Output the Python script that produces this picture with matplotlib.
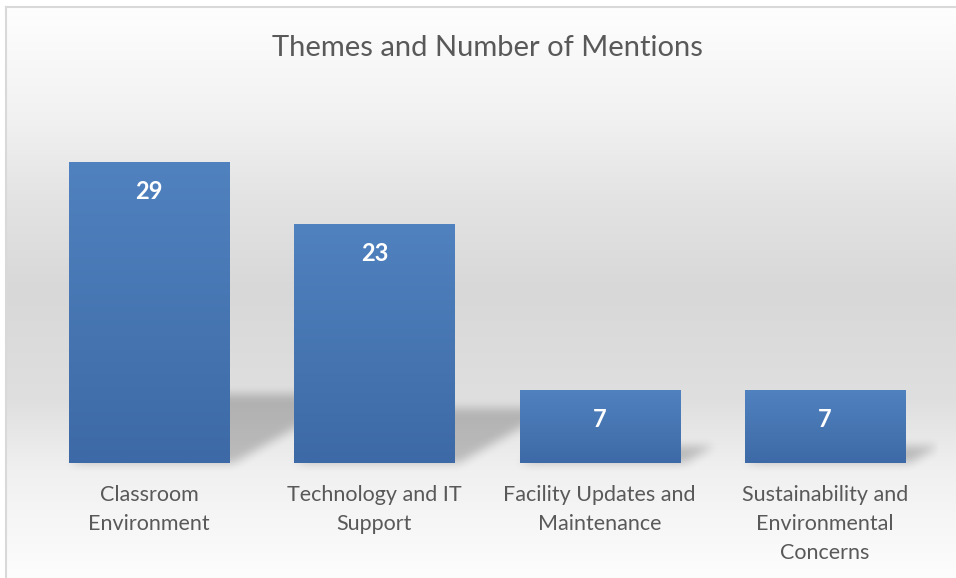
import numpy as np
import matplotlib
matplotlib.use('Agg')
import matplotlib.pyplot as plt
from matplotlib.lines import Line2D

# data
themes = ['Classroom\nEnvironment', 'Technology and IT\nSupport',
          'Facility Updates and\nMaintenance',
          'Sustainability and\nEnvironmental\nConcerns']
mentions = [29, 23, 7, 7]
title = 'Themes and Number of Mentions'

plt.rcParams['font.family'] = ['Lato', 'DejaVu Sans']

W, H = 956, 578
fig = plt.figure(figsize=(W / 100, H / 100), dpi=100)
fig.patch.set_facecolor('white')

# grey-white-grey background of the chart area
bg = fig.add_axes([6 / W, 0, 1 - 6 / W, 1 - 7 / H])
stop_pos = np.array([0, 113, 193, 283, 393, 463, 571]) / 571
stop_val = np.array([254, 241, 227, 216, 223, 240, 253]) / 255
shade = np.interp(np.linspace(0, 1, 600), stop_pos, stop_val)
bg.imshow(np.repeat(shade[:, None, None], 3, axis=2), aspect='auto',
          extent=[0, 1, 0, 1], interpolation='bilinear')
bg.set_xlim(0, 1)
bg.set_ylim(0, 1)
bg.axis('off')

# frame of the chart area
fig.add_artist(Line2D([6 / W, 1], [1 - 7 / H, 1 - 7 / H], color='#d9d9d9', lw=1.5))
fig.add_artist(Line2D([6 / W, 6 / W], [0, 1 - 7 / H], color='#d9d9d9', lw=1.5))

ax = fig.add_axes([36.25 / W, 115 / H, 901.5 / W, 363 / H])
ax.patch.set_alpha(0)
x = np.arange(len(mentions))
width = 0.71


def blur(a, r):
    k = np.ones(2 * r + 1) / (2 * r + 1)
    for _ in range(3):
        a = np.apply_along_axis(lambda m: np.convolve(m, k, mode='same'), 0, a)
        a = np.apply_along_axis(lambda m: np.convolve(m, k, mode='same'), 1, a)
    return a


# soft perspective shadows behind the bars
ext = [-0.5, 3.5, -1.5, 35]
gx = np.linspace(ext[0], ext[1], 902)
gy = np.linspace(ext[2], ext[3], 380)
X, Y = np.meshgrid(gx, gy)
mask = np.zeros_like(X)
for xi, v in zip(x, mentions):
    hs = 0.23 * v
    left = xi - width / 2 + 0.0806 * Y
    right = xi + width / 2 + 0.02 + 0.0806 * Y
    mask[(Y >= 0) & (Y <= hs) & (X >= left) & (X <= right)] = 1
mask = blur(mask, 4)
shadow = np.zeros(mask.shape + (4,))
shadow[..., 3] = mask * 0.21
ax.imshow(shadow, extent=ext, origin='lower', aspect='auto', zorder=1,
          clip_on=False, interpolation='bilinear')

bars = ax.bar(x, mentions, width=width, color='#4a79b3', zorder=2)

# vertical blue gradient inside each bar
top_c = np.array([80, 130, 191]) / 255
bot_c = np.array([61, 106, 166]) / 255
t = np.linspace(0, 1, 200)[:, None]
grad = (top_c * (1 - t) + bot_c * t)[:, None, :]
for b in bars:
    im = ax.imshow(grad, extent=[b.get_x(), b.get_x() + b.get_width(), 0, b.get_height()],
                   aspect='auto', zorder=3, interpolation='bilinear')
    im.set_clip_path(b)

for xi, v in zip(x, mentions):
    ax.annotate(str(v), (xi, v), xytext=(0, -21), textcoords='offset points',
                ha='center', va='center', color='white', fontsize=17,
                fontweight='bold', zorder=4)

ax.set_xlim(-0.5, 3.5)
ax.set_ylim(0, 35)
ax.set_xticks(x, themes)
ax.set_yticks([])
ax.tick_params(axis='x', length=0, pad=15.5, labelsize=15.5, labelcolor='#595959')
for lab in ax.get_xticklabels():
    lab.set_linespacing(1.58)
for s in ax.spines.values():
    s.set_visible(False)

fig.text(487 / W, 1 - 48.5 / H, title, ha='center', va='center', fontsize=21,
         color='#595959')

fig.savefig('out.png', dpi=100)
